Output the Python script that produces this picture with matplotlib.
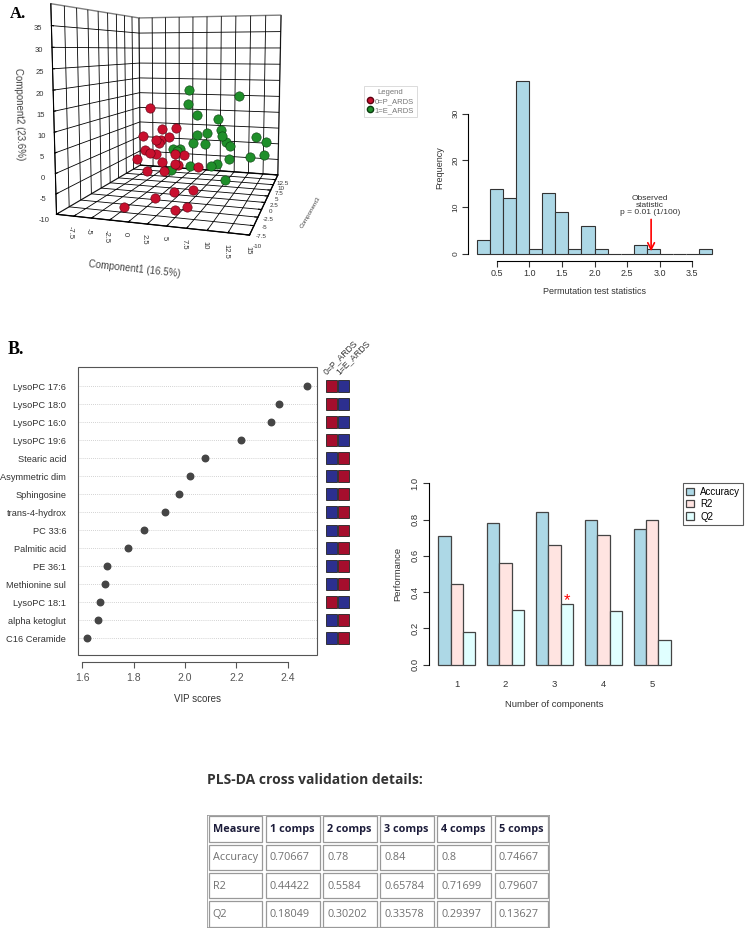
import numpy as np
import matplotlib
matplotlib.use('Agg')
import matplotlib.pyplot as plt
from matplotlib.patches import Rectangle, Patch
from matplotlib.lines import Line2D

plt.rcParams['font.family'] = ['Liberation Sans', 'DejaVu Sans']

# ---------------- Data ----------------
# Panel A: PLS-DA 3D score plot
p_ards_c1 = [-1.4, -1.6, -0.1, 1.7, 1.9, 0.8, 0.2, 0.9, 0.5, -1.8, -1.9, -1.0, 0.5,
             1.3, 2.5, 3.1, 3.6, 3.5, 6.4, 7.2, 2.6, 4.3, -1.1, 5.2, 6.4, 3.2]
p_ards_c2 = [13.9, 7.2, 8.1, 8.1, 6.8, 6.8, 5.5, 5.5, 3.9, 3.0, 1.6, 1.0, -0.3,
             0.6, -0.6, -0.4, 1.7, 0.9, -0.2, -3.2, -5.2, -5.0, -7.4, -7.8, -7.6, 3.0]
p_ards_c3 = [-1, -3, 0, 1, -2, -4, -1, -3, -5, -2, -4, 0, -6, -3, -5, -2, -1, -4,
             -3, -7, -8, -6, -9, -8, -7, -3]
e_ards_c1 = [3.2, 10.0, 3.5, 5.2, 7.4, 5.5, 6.3, 8.1, 8.8, 5.4, 6.7, 9.2, 10.0,
             13.0, 14.3, 2.8, 3.8, 3.5, 6.1, 8.6, 9.0, 10.1, 12.4, 14.2, 11.0, 3.4]
e_ards_c2 = [18.3, 16.5, 14.8, 12.2, 10.3, 7.2, 7.2, 7.8, 6.8, 5.5, 5.0, 5.0, 4.3,
             5.8, 4.1, 4.2, 4.3, 3.7, 1.3, 0.9, 0.9, 1.3, 0.6, 1.1, -1.0, -0.2]
e_ards_c3 = [2, 5, 1, 0, 3, -1, 1, 2, 0, -2, -1, 1, 0, 3, 4, -3, -4, -2, -5, -4,
             -3, -1, 2, 3, -6, -5]
c1_ticks = [-7.5, -5, -2.5, 0, 2.5, 5, 7.5, 10, 12.5, 15]
c2_ticks = [-10, -5, 0, 5, 10, 15, 20, 25, 30, 35]
c3_ticks = [-10, -7.5, -5, -2.5, 0, 2.5, 5, 7.5, 10, 12.5]

# Panel A: permutation test histogram
perm_bin_left = [0.2, 0.4, 0.6, 0.8, 1.0, 1.2, 1.4, 1.6, 1.8, 2.0, 2.2, 2.4,
                 2.6, 2.8, 3.0, 3.2, 3.4, 3.6]
perm_counts = [3, 14, 12, 37, 1, 13, 9, 1, 6, 1, 0, 0, 2, 1, 0, 0, 0, 1]
perm_bin_width = 0.2
observed_stat = 2.87

# Panel B: VIP scores
vip_features = ['LysoPC 17:6', 'LysoPC 18:0', 'LysoPC 16:0', 'LysoPC 19:6',
                'Stearic acid', 'Asymmetric dim', 'Sphingosine', 'trans-4-hydrox',
                'PC 33:6', 'Palmitic acid', 'PE 36:1', 'Methionine sul',
                'LysoPC 18:1', 'alpha ketoglut', 'C16 Ceramide']
vip_scores = [2.475, 2.364, 2.334, 2.219, 2.078, 2.018, 1.977, 1.921, 1.841,
              1.780, 1.696, 1.689, 1.669, 1.662, 1.619]
vip_high_group = [0, 0, 0, 0, 1, 1, 1, 1, 1, 1, 1, 1, 0, 1, 1]
group_labels = ['0=P_ARDS', '1=E_ARDS']

# Panel B: cross validation performance
n_components = [1, 2, 3, 4, 5]
accuracy = [0.70667, 0.78, 0.84, 0.8, 0.74667]
r2 = [0.44422, 0.5584, 0.65784, 0.71699, 0.79607]
q2 = [0.18049, 0.30202, 0.33578, 0.29397, 0.13627]
best_comp = 3
table_header = ['Measure', '1 comps', '2 comps', '3 comps', '4 comps', '5 comps']
measure_names = ['Accuracy', 'R2', 'Q2']

# ---------------- Figure ----------------
W, H = 751, 930
fig = plt.figure(figsize=(W / 100, H / 100), dpi=100)


def px_axes(x0, y0, x1, y1, **kw):
    return fig.add_axes([x0 / W, 1 - y1 / H, (x1 - x0) / W, (y1 - y0) / H], **kw)


def fx(x):
    return x / W


def fy(y):
    return 1 - y / H


serif = ['Liberation Serif', 'DejaVu Serif']
fig.text(fx(10), fy(14), 'A.', fontsize=12, fontweight='bold', family=serif, va='center')
fig.text(fx(8), fy(350), 'B.', fontsize=13, fontweight='bold', family=serif, va='center')

# ---- 3D scatter ----
ax3 = px_axes(8, -48, 348, 262, projection='3d')
ax3.set_proj_type('persp', focal_length=0.3)
ax3.view_init(elev=6, azim=-73)
ax3.set_box_aspect((0.86, 1.0, 0.92), zoom=1.0)
red = '#c8102e'
green = '#1f8f2a'
ax3.scatter(p_ards_c1, p_ards_c3, p_ards_c2, s=45, c=red, edgecolors='#5a0010',
            linewidths=0.4, depthshade=False, alpha=1)
ax3.scatter(e_ards_c1, e_ards_c3, e_ards_c2, s=45, c=green, edgecolors='#0a3d10',
            linewidths=0.4, depthshade=False, alpha=1)
ax3.set_xlim(-10, 15)
ax3.set_ylim(-10, 12.5)
ax3.set_zlim(-10, 40)
ax3.set_xticks(c1_ticks)
ax3.set_yticks(c3_ticks)
ax3.set_zticks(c2_ticks)
ax3.set_xticklabels([f'{t:g}' for t in c1_ticks], rotation=-90, fontsize=5.5, color='#333')
ax3.set_yticklabels([f'{t:g}' for t in c3_ticks], fontsize=4.5, color='#333')
ax3.set_zticklabels([f'{t:g}' for t in c2_ticks], fontsize=5.5, color='#333')
for axis in (ax3.xaxis, ax3.yaxis, ax3.zaxis):
    axis.pane.set_facecolor('white')
    axis.pane.set_edgecolor('black')
    axis._axinfo['grid'].update(color='black', linewidth=0.6)
    axis._axinfo['tick'].update(inward_factor=0, outward_factor=0.2)
    axis.line.set_color('black')
ax3.zaxis.set_ticks_position('lower')
ax3.zaxis.set_label_position('lower')
ax3.tick_params(axis='z', pad=-3)
ax3.tick_params(axis='x', pad=-4)
ax3.tick_params(axis='y', pad=-4)
ax3.set_xlabel('Component1 (16.5%)', fontsize=7, color='#444', labelpad=-4)
ax3.set_zlabel('Component2 (23.6%)', fontsize=7, color='#444', labelpad=-8)
ax3.set_ylabel('')
fig.text(fx(310), fy(212), 'Component3', fontsize=4.5, rotation=60, color='#444',
         ha='center', va='center')

leg_handles = [Line2D([], [], marker='o', ls='', color=red, mec='#5a0010', ms=4.5),
               Line2D([], [], marker='o', ls='', color=green, mec='#0a3d10', ms=4.5)]
lg = fig.legend(leg_handles, group_labels, title='Legend', loc='upper left',
                bbox_to_anchor=(fx(364), fy(86)), fontsize=5.5, title_fontsize=5.5,
                frameon=True, fancybox=False, handletextpad=0.2, borderpad=0.4,
                labelspacing=0.2, handlelength=0.8, borderaxespad=0)
lg.get_frame().set_edgecolor('#cccccc')
lg.get_frame().set_linewidth(0.6)
for t in lg.get_texts():
    t.set_color('#777')
lg.get_title().set_color('#777')

# ---- Histogram ----
axh = px_axes(468, 74, 721, 261)
axh.bar(perm_bin_left, perm_counts, width=perm_bin_width, align='edge',
        color='#add8e6', edgecolor='#333333', linewidth=0.8)
axh.set_xlim(0.056, 3.944)
axh.set_ylim(-1.48, 38.48)
for s in ('top', 'right'):
    axh.spines[s].set_visible(False)
axh.spines['left'].set_bounds(0, 30)
axh.spines['bottom'].set_bounds(0.5, 3.5)
axh.set_yticks([0, 10, 20, 30])
axh.set_yticklabels(['0', '10', '20', '30'], rotation=90, va='center', fontsize=6)
axh.set_xticks([0.5, 1.0, 1.5, 2.0, 2.5, 3.0, 3.5])
axh.set_xticklabels(['0.5', '1.0', '1.5', '2.0', '2.5', '3.0', '3.5'], fontsize=6.5)
axh.tick_params(length=4, width=0.8, colors='#333', pad=2)
axh.set_ylabel('Frequency', fontsize=6.5, color='#333', labelpad=6)
axh.set_xlabel('Permutation test statistics', fontsize=6.5, color='#333', labelpad=6)
axh.annotate('', xy=(observed_stat, 0), xytext=(observed_stat, 8.0),
             arrowprops=dict(arrowstyle='->', color='red', lw=1.2, mutation_scale=12))
axh.text(observed_stat - 0.02, 8.2, 'Observed\nstatistic\np = 0.01 (1/100)', ha='center',
         va='bottom', fontsize=6, color='#333', linespacing=1.0)

# ---- VIP scores ----
axv = px_axes(78, 367, 317, 655)
ypos = np.arange(len(vip_features))
for y in ypos:
    axv.axhline(y, color='#c4c4c4', lw=0.6, ls=(0, (1, 1.5)), zorder=1)
axv.scatter(vip_scores, ypos, s=22, color='#454545', zorder=3)
axv.set_xlim(1.584, 2.513)
axv.set_ylim(14.94, -1.06)
axv.set_yticks(ypos)
axv.set_yticklabels(vip_features, fontsize=6.7, color='#333')
axv.tick_params(axis='y', length=0, pad=8.5)
for s in ('top', 'right', 'left'):
    axv.spines[s].set_visible(False)
axv.add_patch(Rectangle((0, 0), 1, 1, transform=axv.transAxes, fill=False,
                        edgecolor='#555', lw=0.8, zorder=5, clip_on=False))
axv.spines['bottom'].set_position(('outward', 5))
axv.spines['bottom'].set_bounds(1.6, 2.4)
axv.spines['bottom'].set_color('#555')
axv.set_xticks([1.6, 1.8, 2.0, 2.2, 2.4])
axv.set_xticklabels(['1.6', '1.8', '2.0', '2.2', '2.4'], fontsize=7.5, color='#333')
axv.tick_params(axis='x', length=4, width=0.8, colors='#555', pad=4)
axv.set_xlabel('VIP scores', fontsize=7, color='#333', labelpad=8)

axc = px_axes(325, 367, 350, 655, sharey=axv)
for i, hg in enumerate(vip_high_group):
    for j in range(2):
        col = '#a50e2d' if j == hg else '#2c2f8f'
        axc.add_patch(Rectangle((j + 0.04, i - 0.31), 0.88, 0.62, facecolor=col,
                                edgecolor='#222', lw=0.6))
axc.set_xlim(0, 2)
axc.axis('off')
for j, lab in enumerate(group_labels):
    axc.text(j + 0.25, -0.55, lab, rotation=45, fontsize=6.2, color='#333',
             ha='left', va='bottom', rotation_mode='anchor')

# ---- Performance bars ----
axb = px_axes(429, 476, 680, 672)
x_acc = [4 * (c - 1) + 1.5 for c in n_components]
x_r2 = [x + 1 for x in x_acc]
x_q2 = [x + 2 for x in x_acc]
bar_kw = dict(width=1.0, edgecolor='#444', linewidth=0.9)
axb.bar(x_acc, accuracy, color='#add8e6', label='Accuracy', **bar_kw)
axb.bar(x_r2, r2, color='#ffe4e1', label='R2', **bar_kw)
axb.bar(x_q2, q2, color='#e0ffff', label='Q2', **bar_kw)
axb.text(x_q2[best_comp - 1], q2[best_comp - 1] + 0.015, '*', color='red',
         fontsize=12, ha='center', va='center')
axb.set_xlim(0.24, 20.76)
axb.set_ylim(-0.04, 1.04)
for s in ('top', 'right', 'bottom'):
    axb.spines[s].set_visible(False)
axb.spines['left'].set_bounds(0, 1)
axb.set_yticks([0, 0.2, 0.4, 0.6, 0.8, 1.0])
axb.set_yticklabels(['0.0', '0.2', '0.4', '0.6', '0.8', '1.0'], rotation=90,
                    va='center', fontsize=6.8)
axb.set_xticks(x_r2)
axb.set_xticklabels([str(c) for c in n_components], fontsize=6.8)
axb.tick_params(axis='x', length=0, pad=6, colors='#333')
axb.tick_params(axis='y', length=4, width=0.8, colors='#333', pad=3)
axb.set_ylabel('Performance', fontsize=6.8, color='#333', labelpad=6)
axb.set_xlabel('Number of components', fontsize=6.8, color='#333', labelpad=8)
lgb = axb.legend(loc='upper left', bbox_to_anchor=(1.012, 0.963),
                 fontsize=7, frameon=True, fancybox=False, handlelength=0.8,
                 handleheight=0.8, handletextpad=0.6, borderpad=0.35, labelspacing=0.25,
                 borderaxespad=0)
lgb.get_frame().set_edgecolor('#333')
lgb.get_frame().set_linewidth(0.8)

# ---- Table ----
fig.text(fx(207), fy(780), 'PLS-DA cross validation details:', fontsize=10,
         fontweight='bold', family=['Open Sans', 'DejaVu Sans'], color='#333',
         va='center', ha='left')
axt = px_axes(207, 815, 550, 928)
axt.set_xlim(0, 6)
axt.set_ylim(4, 0)
axt.axis('off')
axt.add_patch(Rectangle((0, 0), 6, 4, fill=False, edgecolor='#999', lw=1.2))
rows = [table_header] + [[name] + [f'{v:g}' for v in vals]
                         for name, vals in zip(measure_names, [accuracy, r2, q2])]
for r, row in enumerate(rows):
    for c, val in enumerate(row):
        axt.add_patch(Rectangle((c + 0.03, r + 0.05), 0.94, 0.9, fill=False,
                                edgecolor='#999', lw=0.9))
        axt.text(c + 0.1, r + 0.52, val, fontsize=7.8,
                 family=['Open Sans', 'DejaVu Sans'],
                 fontweight='bold' if r == 0 else 'normal',
                 color='#1c1c3a' if r == 0 else '#707070', ha='left', va='center')

fig.savefig('out.png', dpi=100)
